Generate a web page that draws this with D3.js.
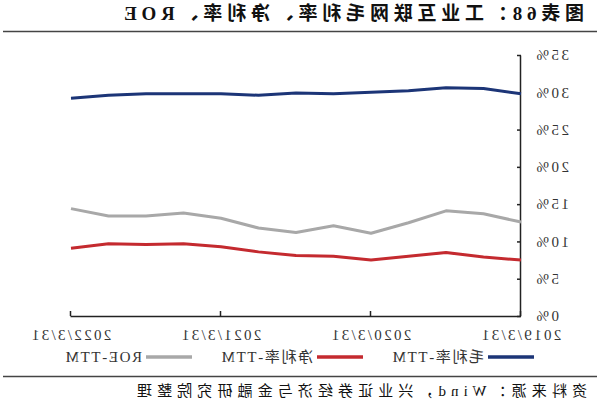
<!DOCTYPE html>
<html><head><meta charset="utf-8">
<script src="https://cdn.jsdelivr.net/npm/d3@7"></script>
<style>
html,body{margin:0;padding:0;background:#fff;}
svg{display:block;}
</style></head>
<body>
<svg id="chart" width="600" height="404"></svg>
<script>
const title = "图表68：工业互联网毛利率、净利率、ROE";
const source = "资料来源：Wind，兴业证券经济与金融研究院整理";
const categories = ["2019/3/31","2019/6/30","2019/9/30","2019/12/31","2020/3/31","2020/6/30","2020/9/30","2020/12/31","2021/3/31","2021/6/30","2021/9/30","2021/12/31","2022/3/31"];
const xTickLabels = ["2019/3/31","2020/3/31","2021/3/31","2022/3/31"];
const yTicks = [0,5,10,15,20,25,30,35];
const seriesNames = ["毛利率-TTM","净利率-TTM","ROE-TTM"];
const grossMargin = [29.8, 30.5, 30.6, 30.2, 30.0, 29.8, 29.9, 29.6, 29.8, 29.8, 29.8, 29.6, 29.2];
const netMargin   = [7.5, 7.9, 8.5, 8.0, 7.5, 8.0, 8.1, 8.6, 9.3, 9.7, 9.6, 9.7, 9.1];
const roe         = [12.6, 13.7, 14.1, 12.5, 11.1, 12.1, 11.2, 11.8, 13.1, 13.8, 13.4, 13.4, 14.4];
const colors = ["#1c3577", "#c42a2f", "#a8a8a8"];

const svg = d3.select("#chart");
// The reference image is horizontally mirrored
const root = svg.append("g").attr("transform","translate(600,0) scale(-1,1)");
const FONT = "'Liberation Serif','Noto Sans CJK SC',serif";

const x = d3.scalePoint().domain(categories).range([79, 529]);
const y = d3.scaleLinear().domain([0,35]).range([316,55]);

// title
root.append("text").attr("x",16).attr("y",20).attr("font-family",FONT)
  .attr("font-size",19).attr("font-weight","bold").attr("fill","#111")
  .attr("textLength",460).attr("lengthAdjust","spacing").text(title);
root.append("line").attr("x1",3).attr("x2",597).attr("y1",31.5).attr("y2",31.5)
  .attr("stroke","#444").attr("stroke-width",1.5);

// axes
const xAxis = d3.axisBottom(x).tickValues(xTickLabels).tickSizeInner(-5).tickSizeOuter(0).tickPadding(13);
const gx = root.append("g").attr("transform","translate(0,316)").call(xAxis);
gx.select(".domain").attr("stroke","#222").attr("stroke-width",1.5);
gx.selectAll(".tick line").attr("stroke","#222").attr("stroke-width",1.5);
gx.selectAll("text").attr("font-family",FONT).attr("font-size",15).attr("fill","#333").attr("letter-spacing",2.3);

const yAxis = d3.axisLeft(y).tickValues(yTicks).tickFormat(d=>d+"%").tickSizeInner(-4).tickSizeOuter(0).tickPadding(13);
const gy = root.append("g").attr("transform","translate(79,0)").call(yAxis);
gy.select(".domain").attr("stroke","#222").attr("stroke-width",1.5);
gy.selectAll(".tick line").attr("stroke","#222").attr("stroke-width",1.5);
gy.selectAll("text").attr("font-family",FONT).attr("font-size",15).attr("fill","#333").attr("letter-spacing",2.5);

// lines
const allSeries = [grossMargin, netMargin, roe];
const line = d3.line().x((d,i)=>x(categories[i])).y(d=>y(d));
allSeries.forEach((s,k)=>{
  root.append("path").datum(s).attr("d",line).attr("fill","none")
    .attr("stroke",colors[k]).attr("stroke-width",3).attr("stroke-linejoin","round");
});

// legend
const lg = root.append("g").attr("transform","translate(66,357)");
seriesNames.forEach((n,k)=>{
  const g = lg.append("g").attr("transform",`translate(${k*171},0)`);
  g.append("line").attr("x1",0).attr("x2",46).attr("y1",0).attr("y2",0).attr("stroke",colors[k]).attr("stroke-width",3.5);
  g.append("text").attr("x",50).attr("y",5).attr("font-family",FONT).attr("font-size",15)
    .attr("fill","#333").attr("letter-spacing",1.6).text(n);
});

// footer
root.append("line").attr("x1",3).attr("x2",597).attr("y1",376.5).attr("y2",376.5)
  .attr("stroke","#444").attr("stroke-width",1.5);
root.append("text").attr("x",13).attr("y",396).attr("font-family",FONT).attr("font-size",15)
  .attr("fill","#111").attr("textLength",450).attr("lengthAdjust","spacing").text(source);
</script>
</body></html>
